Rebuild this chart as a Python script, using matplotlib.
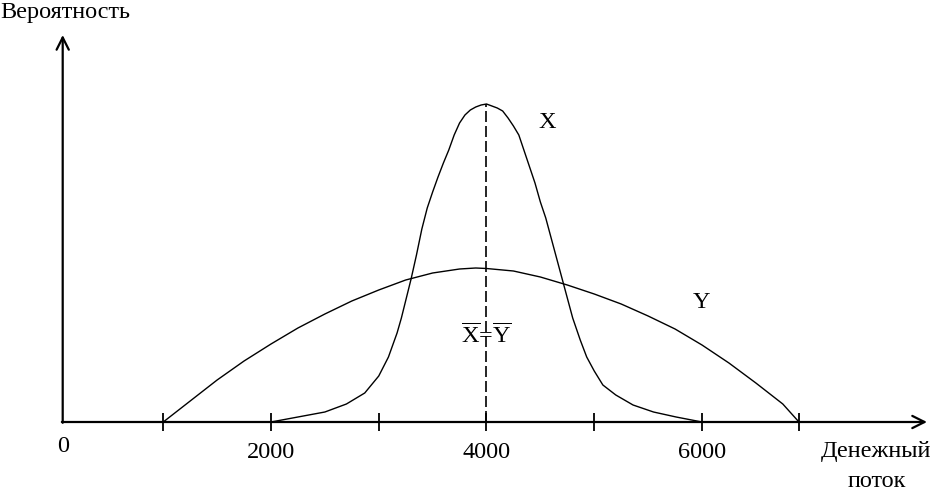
import matplotlib
matplotlib.use("Agg")
import matplotlib.pyplot as plt

plt.rcParams['font.family'] = ['Liberation Serif', 'DejaVu Serif']
plt.rcParams['mathtext.fontset'] = 'custom'
plt.rcParams['mathtext.rm'] = 'Liberation Serif'
plt.rcParams['mathtext.it'] = 'Liberation Serif'

# Data
x_cash = [2000, 2250, 2500, 2700, 2870, 3000, 3090, 3170, 3210, 3300, 3350,
          3400, 3450, 3500, 3550, 3600, 3650, 3700, 3750, 3800, 3850, 3900,
          3950, 4000, 4050, 4100, 4150, 4200, 4250, 4300, 4350, 4400, 4450,
          4500, 4550, 4600, 4650, 4700, 4750, 4800, 4870, 4930, 5000, 5080,
          5200, 5360, 5550, 5760, 6000]
x_prob = [0.000, 0.005, 0.010, 0.018, 0.029, 0.046, 0.065, 0.089, 0.104,
          0.143, 0.167, 0.193, 0.214, 0.230, 0.245, 0.259, 0.272, 0.287,
          0.299, 0.307, 0.312, 0.315, 0.317, 0.318, 0.316, 0.314, 0.311,
          0.304, 0.296, 0.287, 0.271, 0.255, 0.239, 0.220, 0.204, 0.184,
          0.164, 0.144, 0.124, 0.104, 0.082, 0.065, 0.051, 0.037, 0.027,
          0.017, 0.010, 0.005, 0.000]

y_cash = [1000, 1250, 1500, 1750, 2000, 2250, 2500, 2750, 3000, 3250, 3500,
          3750, 3900, 4000, 4250, 4500, 4750, 5000, 5250, 5500, 5750, 6000,
          6250, 6500, 6750, 6900]
y_prob = [0.000, 0.021, 0.042, 0.061, 0.078, 0.094, 0.108, 0.121, 0.132,
          0.142, 0.149, 0.153, 0.154, 0.1535, 0.151, 0.145, 0.137, 0.128,
          0.118, 0.106, 0.093, 0.077, 0.059, 0.039, 0.018, 0.000]

tick_values = [1000, 2000, 3000, 4000, 5000, 6000, 6900]
tick_labels = {0: "0", 2000: "2000", 4000: "4000", 6000: "6000"}
mean_value = 4000
mean_prob = 0.318

W, H = 933, 490
X0, X1 = -515.1, 8143.9
Y0, Y1 = -0.068, 0.422


def dx(px):
    return X0 + px / W * (X1 - X0)


def dy(py):
    return Y1 - py / H * (Y1 - Y0)


fig = plt.figure(figsize=(W / 100, H / 100), dpi=100)
ax = fig.add_axes([0, 0, 1, 1])
ax.set_xlim(X0, X1)
ax.set_ylim(Y0, Y1)
ax.axis('off')

yaxis_x = dx(62.7)
# axes with arrows
ax.annotate('', xy=(yaxis_x, dy(35)), xytext=(yaxis_x, -0.0008),
            arrowprops=dict(arrowstyle='->', lw=1.6, color='black',
                            shrinkA=0, shrinkB=0, mutation_scale=22))
ax.annotate('', xy=(dx(927), 0), xytext=(yaxis_x - 8, 0),
            arrowprops=dict(arrowstyle='->', lw=1.6, color='black',
                            shrinkA=0, shrinkB=0, mutation_scale=22))

# ticks
ax.vlines(tick_values, -0.009, 0.009, colors='black', lw=1.3)

# curves
ax.plot(x_cash, x_prob, color='black', lw=1.0, solid_joinstyle='round')
ax.plot(y_cash, y_prob, color='black', lw=1.0, solid_joinstyle='round')

# mean dashed line
ax.plot([mean_value, mean_value], [0, mean_prob], color='black', lw=1.2,
        dashes=(6.6, 2.4))

fs = 17.5
for v, lab in tick_labels.items():
    if v == 0:
        ax.text(yaxis_x, dy(446), lab, ha='center', va='center', fontsize=fs)
    else:
        ax.text(v, dy(452), lab, ha='center', va='center', fontsize=fs)

ax.text(dx(876), dy(452), "Денежный", ha='center', va='center', fontsize=fs)
ax.text(dx(877), dy(481), "поток", ha='center', va='center', fontsize=fs)
ax.text(dx(0), dy(12), "Вероятность", ha='left', va='center', fontsize=fs)

ax.text(dx(547), dy(122), "X", ha='center', va='center', fontsize=fs)
ax.text(dx(701), dy(302), "Y", ha='center', va='center', fontsize=fs)
ax.text(mean_value, dy(336), r"$\overline{\mathrm{X}}$=$\overline{\mathrm{Y}}$",
        ha='center', va='center', fontsize=fs)

fig.savefig("out.png", dpi=100)
